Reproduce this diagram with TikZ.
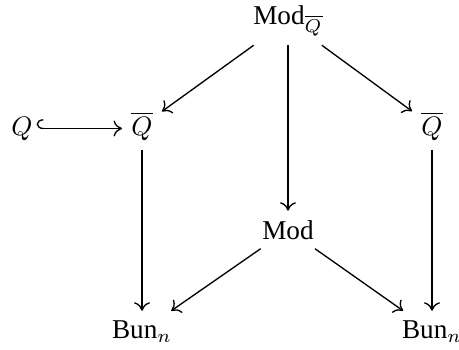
\documentclass[tikz,border=0pt]{standalone}
\usepackage{amsmath}
\usepackage{fontspec}
\setmainfont{Liberation Serif}
\usetikzlibrary{arrows.meta}
\begin{document}
\begin{tikzpicture}[x=0.375pt,y=-0.375pt,
  obj/.style={inner sep=3.33pt,anchor=base,font=\fontsize{10.2}{12}\selectfont},
  arr/.style={line width=0.5pt,-{Computer Modern Rightarrow[length=3.2pt,width=6pt]}},
  hk/.style={line width=0.5pt,shorten <=-2pt,{Hooks[right,length=2.5pt,width=7pt]}-{Computer Modern Rightarrow[length=3.2pt,width=6pt]}}]
\path[use as bounding box] (0,0) rectangle (459,349);
\node[obj] (top) at (288,24) {Mod$_{\overline{Q}}$};
\node[obj] (q) at (22,135) {$Q$};
\node[obj] (qL) at (142,135) {$\overline{Q}$};
\node[obj] (qR) at (432,135) {$\overline{Q}$};
\node[obj] (mod) at (288,239) {Mod};
\node[obj] (bL) at (142,338) {Bun$_{n}$};
\node[obj] (bR) at (432,338) {Bun$_{n}$};
\draw[arr] (top) -- (qL);
\draw[arr] (top) -- (qR);
\draw[arr] (mod |- top.south) -- (mod);
\draw[hk] (q.east) -- (q.east -| qL.west);
\draw[arr] (qL) -- (bL);
\draw[arr] (qR) -- (bR);
\draw[arr] (mod) -- (bL);
\draw[arr] (mod) -- (bR);
\end{tikzpicture}
\end{document}
